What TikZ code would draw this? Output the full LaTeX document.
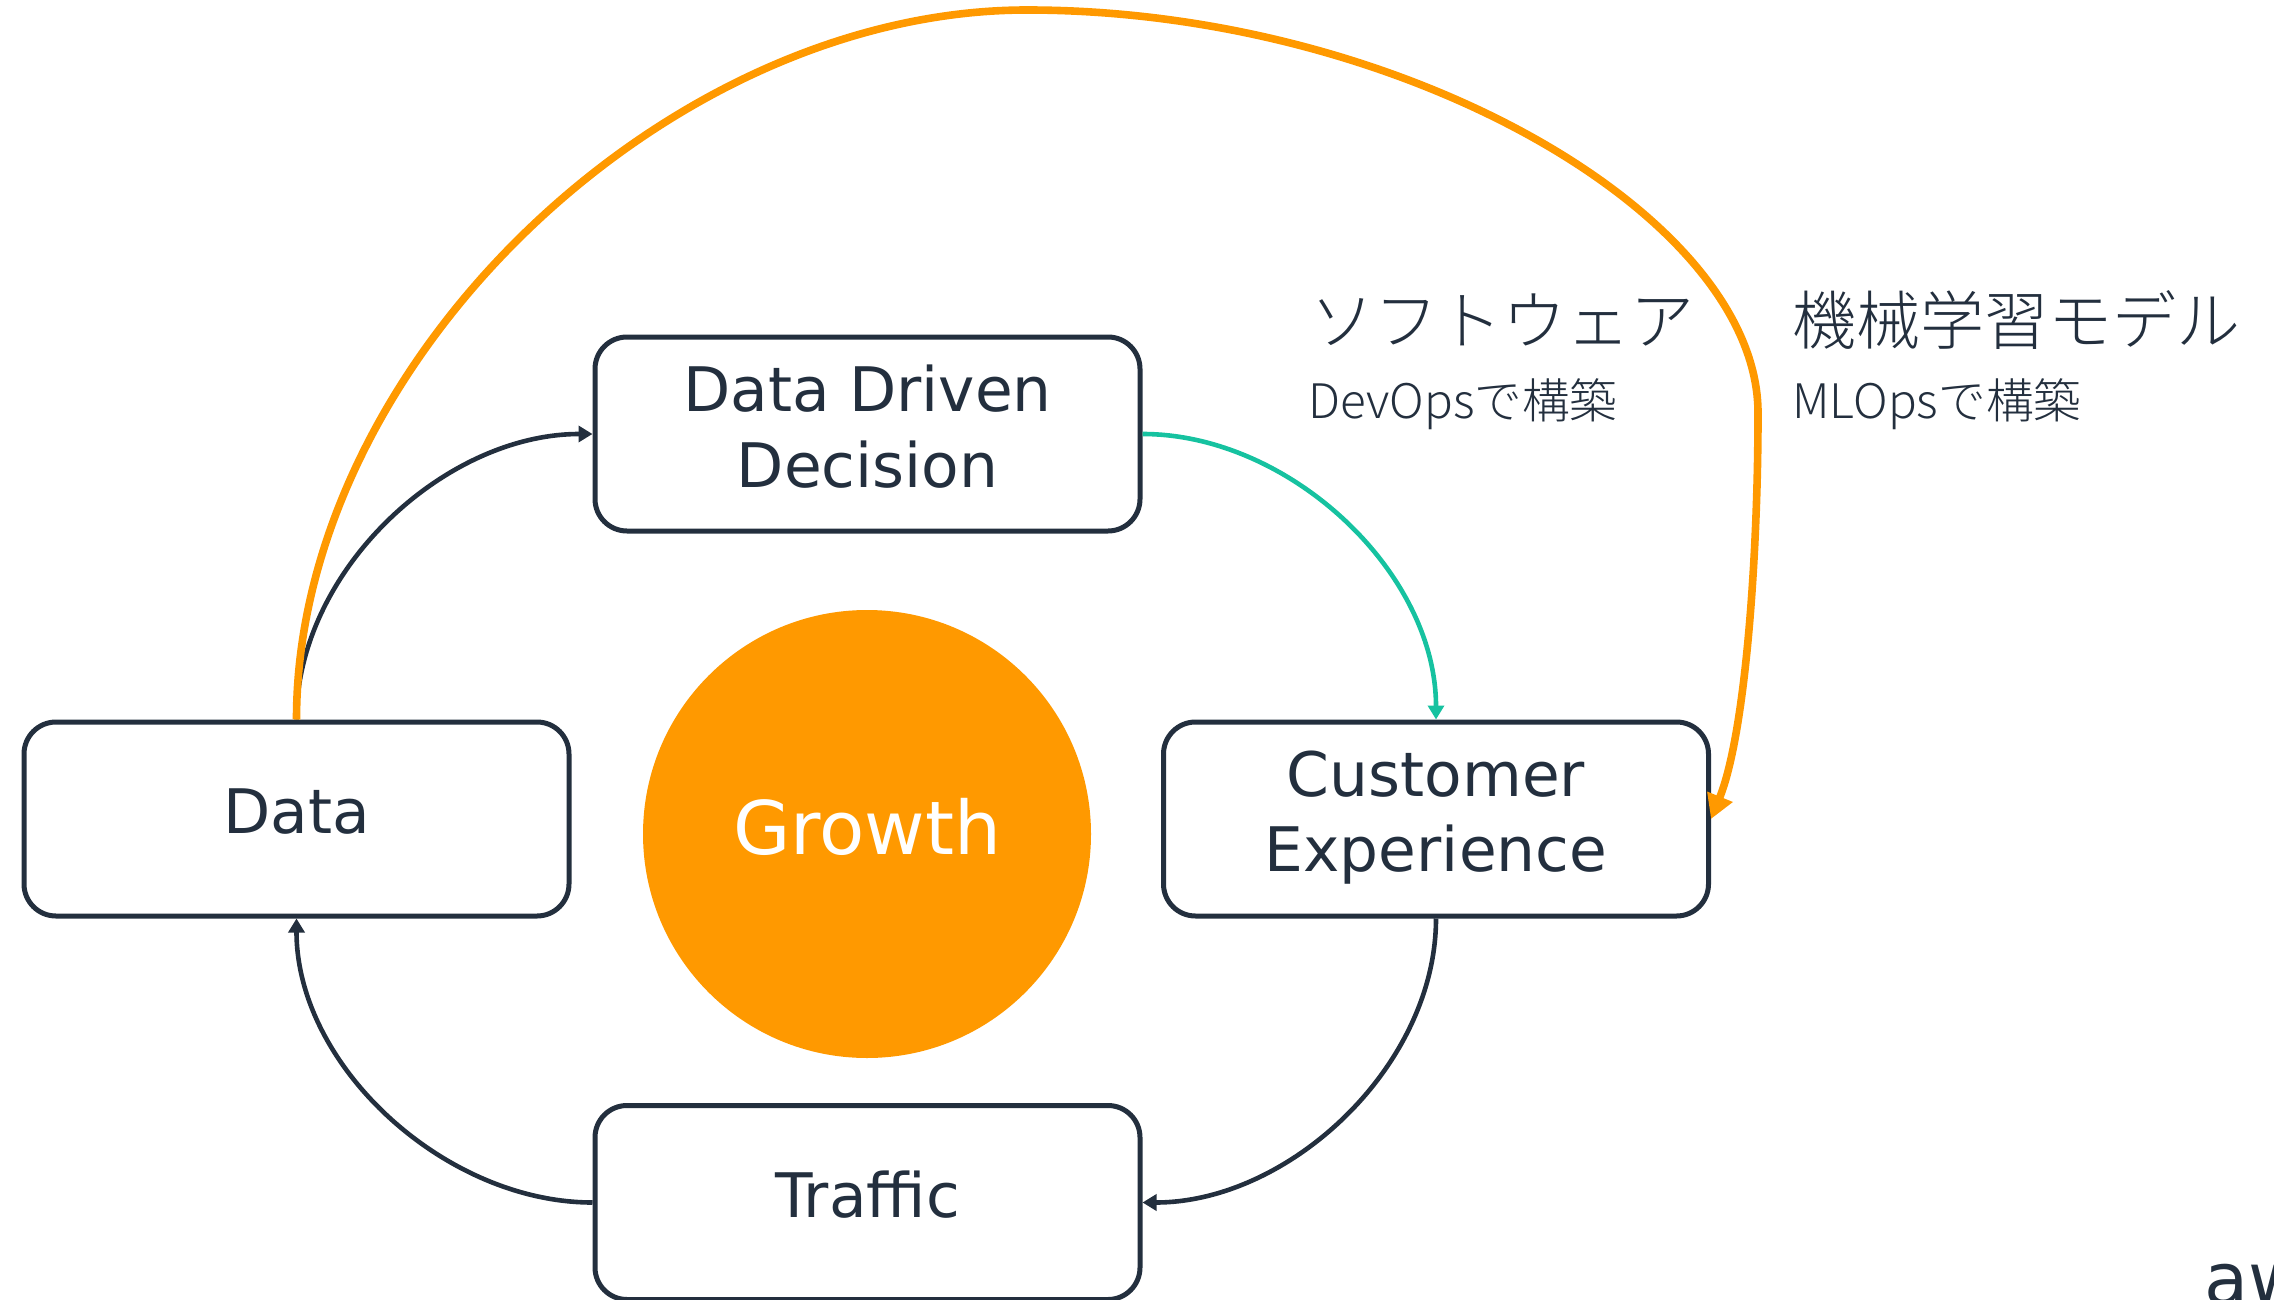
\documentclass[tikz,border=0pt]{standalone}
\usepackage{fontspec}
\setmainfont{DejaVu Sans}
\newfontfamily\cjk{Noto Sans CJK JP Light}
\usetikzlibrary{arrows.meta}
\definecolor{ink}{HTML}{232F3E}
\definecolor{amber}{HTML}{FF9900}
\definecolor{teal}{HTML}{16C2A0}
\tikzset{
  px/.style={x=0.5pt,y=-0.5pt},
  stagebox/.style={draw=ink,line width=2.5pt,rounded corners=16pt,fill=white,minimum width=272.5pt,minimum height=97pt,inner sep=0pt,align=center,text=ink,text depth=8pt,font=\fontsize{30.7}{37.7}\selectfont},
  flow/.style={draw=ink,line width=2.3pt,looseness=0.92,-{Triangle[length=7pt,width=8pt]}},
  greenflow/.style={draw=teal,line width=2.3pt,looseness=0.92,-{Triangle[length=7pt,width=8pt]}},
  mlflow/.style={draw=amber,line width=3.8pt,-{Triangle[length=12pt,width=13pt]}},
  heading/.style={anchor=west,inner sep=0pt,text=ink,font=\cjk\fontsize{32}{38}\selectfont},
  subheading/.style={anchor=west,inner sep=0pt,text=ink,font=\cjk\fontsize{23.8}{28}\selectfont},
}
\begin{document}
\begin{tikzpicture}[px]
\useasboundingbox (0,0) rectangle (2274,1300);
\node[circle,fill=amber,minimum size=224pt,inner sep=0pt,text=white,text depth=8pt,font=\fontsize{37}{44}\selectfont] (growth) at (867,834) {Growth};
\node[stagebox] (ddd) at (867.5,434) {Data Driven\\Decision};
\node[stagebox] (data) at (296.5,819) {Data};
\node[stagebox] (cust) at (1436,819) {Customer\\Experience};
\node[stagebox] (traffic) at (867.5,1202.5) {Traffic};
\draw[flow] (data.north) to[out=90,in=180] (ddd.west);
\draw[greenflow] (ddd.east) to[out=0,in=90] (cust.north);
\draw[flow] (cust.south) to[out=-90,in=0] (traffic.east);
\draw[flow] (traffic.west) to[out=180,in=-90] (data.south);
\draw[mlflow] (data.north) .. controls +(0,-355) and (665,10) .. (1027,10) .. controls (1400,10) and (1758,215) .. (1758,413) .. controls (1758,560) and (1745,735) .. (cust.east);
\node[heading] (sw) at (1310,320) {ソフトウェア};
\node[subheading] (dev) at (1308,404) {DevOpsで構築};
\node[heading] (ml) at (1792,320) {機械学習モデル};
\node[subheading] (mlo) at (1792,404) {MLOpsで構築};
\node[anchor=base west,inner sep=0pt,text=ink,font=\fontsize{36}{42}\selectfont] (aws) at (2204,1304) {aws};
\end{tikzpicture}
\end{document}
